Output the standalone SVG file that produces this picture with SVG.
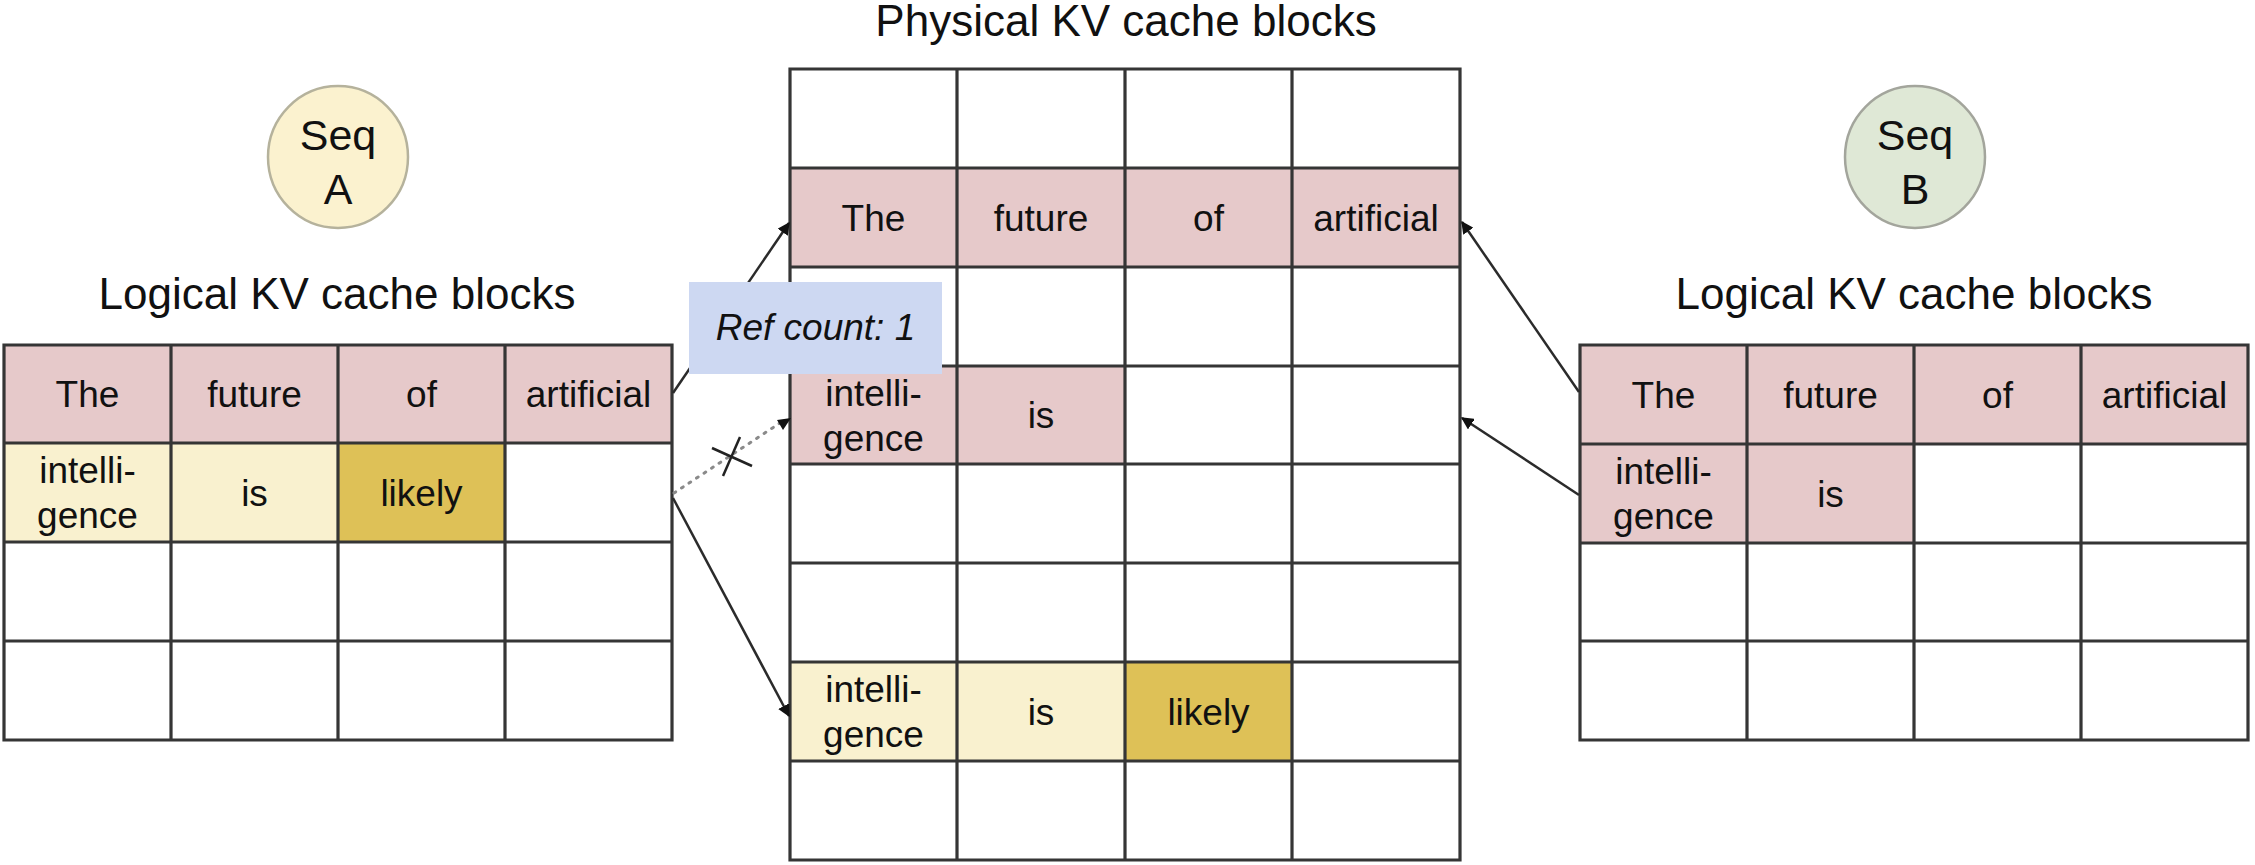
<svg xmlns="http://www.w3.org/2000/svg" width="2255" height="865" viewBox="0 0 2255 865">
<style>
text{font-family:"Liberation Sans",Arial,sans-serif;fill:#111;text-anchor:middle}
.t{font-size:37px}
.h{font-size:44px}
.s{font-size:43px}
.grid{fill:none;stroke:#353535;stroke-width:3.2}
.pk{fill:#e6c9ca}
.ly{fill:#f9f1cf}
.dy{fill:#dec157}
.con{stroke:#2b2b2b;stroke-width:2.5;fill:none}
.dot{stroke:#8a8a8a;stroke-width:3;fill:none;stroke-dasharray:2 7;stroke-linecap:round}
</style>
<defs>
<marker id="ah" viewBox="0 0 10 10" refX="9" refY="5" markerWidth="5" markerHeight="5" orient="auto" markerUnits="strokeWidth">
<path d="M0,0 L10,5 L0,10 z" fill="#111"/>
</marker>
</defs>
<rect width="2255" height="865" fill="#fff"/>

<g id="seqA">
<ellipse cx="338" cy="157" rx="70" ry="71" fill="#fbf2cf" stroke="#b5b29c" stroke-width="2.5"/>
<text class="s" x="338" y="150">Seq</text>
<text class="s" x="338" y="204">A</text>
</g>
<g id="seqB">
<ellipse cx="1915" cy="157" rx="70" ry="71" fill="#dfe8d6" stroke="#a3a59c" stroke-width="2.5"/>
<text class="s" x="1915" y="150">Seq</text>
<text class="s" x="1915" y="204">B</text>
</g>

<g id="labels">
<text class="h" x="337" y="309">Logical KV cache blocks</text>
<text class="h" x="1126" y="36">Physical KV cache blocks</text>
<text class="h" x="1914" y="309">Logical KV cache blocks</text>
</g>

<g id="logicalA">
<rect class="pk" x="4" y="345" width="668" height="98"/>
<rect class="ly" x="4" y="443" width="334" height="99"/>
<rect class="dy" x="338" y="443" width="167" height="99"/>
<path class="grid" d="M4,345H672V740H4Z M171,345V740 M338,345V740 M505,345V740 M4,443H672 M4,542H672 M4,641H672"/>
<text class="t" x="87.5" y="407">The</text>
<text class="t" x="254.5" y="407">future</text>
<text class="t" x="421.5" y="407">of</text>
<text class="t" x="588.5" y="407">artificial</text>
<text class="t" x="87.5" y="483">intelli-</text>
<text class="t" x="87.5" y="528">gence</text>
<text class="t" x="254.5" y="506">is</text>
<text class="t" x="421.5" y="506">likely</text>
</g>

<g id="physical">
<rect class="pk" x="790" y="168" width="670" height="99"/>
<rect class="pk" x="790" y="366" width="335" height="98"/>
<rect class="ly" x="790" y="662" width="335" height="99"/>
<rect class="dy" x="1125" y="662" width="167" height="99"/>
<path class="grid" d="M790,69H1460V860H790Z M957,69V860 M1125,69V860 M1292,69V860 M790,168H1460 M790,267H1460 M790,366H1460 M790,464H1460 M790,563H1460 M790,662H1460 M790,761H1460"/>
<text class="t" x="873.5" y="231">The</text>
<text class="t" x="1041" y="231">future</text>
<text class="t" x="1208.5" y="231">of</text>
<text class="t" x="1376" y="231">artificial</text>
<text class="t" x="873.5" y="405.5">intelli-</text>
<text class="t" x="873.5" y="450.5">gence</text>
<text class="t" x="1041" y="428">is</text>
<text class="t" x="873.5" y="702">intelli-</text>
<text class="t" x="873.5" y="747">gence</text>
<text class="t" x="1041" y="724.5">is</text>
<text class="t" x="1208.5" y="724.5">likely</text>
</g>

<g id="logicalB">
<rect class="pk" x="1580" y="345" width="668" height="99"/>
<rect class="pk" x="1580" y="444" width="334" height="99"/>
<path class="grid" d="M1580,345H2248V740H1580Z M1747,345V740 M1914,345V740 M2081,345V740 M1580,444H2248 M1580,543H2248 M1580,641H2248"/>
<text class="t" x="1663.5" y="407.5">The</text>
<text class="t" x="1830.5" y="407.5">future</text>
<text class="t" x="1997.5" y="407.5">of</text>
<text class="t" x="2164.5" y="407.5">artificial</text>
<text class="t" x="1663.5" y="484">intelli-</text>
<text class="t" x="1663.5" y="529">gence</text>
<text class="t" x="1830.5" y="506.5">is</text>
</g>

<g id="connectors">
<line class="con" x1="673" y1="393" x2="789" y2="223" marker-end="url(#ah)"/>
<line class="dot" x1="674" y1="493" x2="783" y2="421"/>
<path d="M791,418 L777,420 L783,430 Z" fill="#111"/>
<line class="con" x1="673" y1="498" x2="789" y2="716" marker-end="url(#ah)"/>
<line class="con" x1="1579" y1="392" x2="1462" y2="222" marker-end="url(#ah)"/>
<line class="con" x1="1579" y1="495" x2="1462" y2="418" marker-end="url(#ah)"/>
<g id="xmark" stroke="#222" stroke-width="2.5">
<line x1="712" y1="448" x2="752" y2="466"/>
<line x1="740" y1="437" x2="723" y2="476"/>
</g>
</g>

<g id="refcount">
<rect x="689" y="282" width="253" height="92" fill="#cdd8f2"/>
<text class="t" x="815.5" y="340" font-style="italic">Ref count: 1</text>
</g>
</svg>
